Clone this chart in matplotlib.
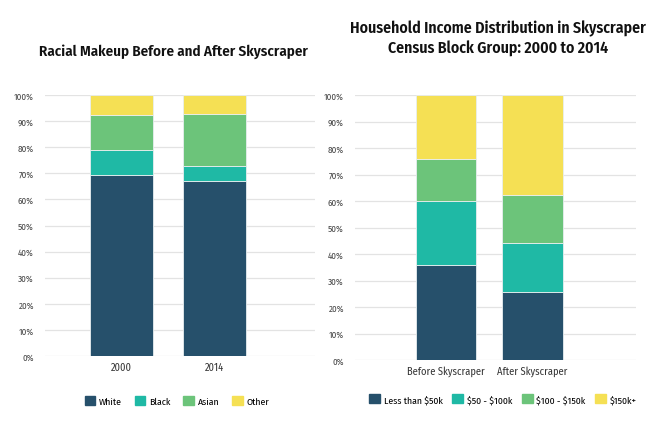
import matplotlib
matplotlib.use("Agg")
from matplotlib import pyplot as plt
from matplotlib.patches import Patch
import numpy as np

plt.rcParams['font.family'] = ['Fira Sans Condensed', 'DejaVu Sans']

# racial makeup (%)
years = ["2000", "2014"]
race_labels = ["White", "Black", "Asian", "Other"]
white = [69.3, 67.0]
black = [9.6, 5.7]
asian = [13.6, 19.9]
other = [7.5, 7.4]

# household income (%)
periods = ["Before Skyscraper", "After Skyscraper"]
income_labels = ["Less than \\$50k", "\\$50 - \\$100k", "\\$100 - \\$150k", "\\$150k+"]
inc_lt50 = [36.0, 25.7]
inc_50_100 = [24.0, 18.3]
inc_100_150 = [16.0, 18.2]
inc_150p = [24.0, 37.8]

colors = ["#26506b", "#1fb9a5", "#6cc47a", "#f5e054"]
W, H = 653, 439

fig = plt.figure(figsize=(W / 100, H / 100), dpi=100)


def stacked(ax, cats, series, width, xlim):
    x = np.arange(len(cats))
    bottom = np.zeros(len(cats))
    for vals, c in zip(series, colors):
        ax.bar(x, vals, width, bottom=bottom, color=c, edgecolor="#e8eef0",
               linewidth=0.6, zorder=3)
        bottom += np.array(vals)
    ax.set_xlim(*xlim)
    ax.set_ylim(0, 100)
    ax.set_xticks(x)
    ax.set_xticklabels(cats, fontsize=7.5, color="#333333")
    ax.set_yticks(np.arange(0, 101, 10))
    ax.set_yticklabels([f"{v}%" for v in range(0, 101, 10)], fontsize=6.5, color="#444444")
    ax.tick_params(length=0, pad=4)
    ax.tick_params(axis="y", pad=8)
    ax.grid(axis="y", color="#e3e3e3", linewidth=0.9, zorder=0)
    for s in ax.spines.values():
        s.set_visible(False)


ax1 = fig.add_axes([45 / W, 1 - 357 / H, 270 / W, 261 / H])
stacked(ax1, years, [white, black, asian, other], 0.68, (-0.83, 2.09))

ax2 = fig.add_axes([355 / W, 1 - 361 / H, 281 / W, 265 / H])
stacked(ax2, periods, [inc_lt50, inc_50_100, inc_100_150, inc_150p], 0.7, (-1.05, 2.2))

fig.text(173 / W, 1 - 52 / H, "Racial Makeup Before and After Skyscraper",
         ha="center", va="center", fontsize=10.8, fontweight="semibold", color="#111111")
fig.text(498 / W, 1 - 39 / H, "Household Income Distribution in Skyscraper\nCensus Block Group: 2000 to 2014",
         ha="center", va="center", fontsize=11.4, fontweight="semibold", color="#111111",
         linespacing=1.3)

h1 = [Patch(color=c) for c in colors]
fig.legend(h1, race_labels, loc="center", bbox_to_anchor=(177 / W, 1 - 402 / H),
           ncol=4, frameon=False, fontsize=7, handlelength=1.1, handleheight=1.1,
           columnspacing=1.3, handletextpad=0.4)
fig.legend(h1, income_labels, loc="center", bbox_to_anchor=(503 / W, 1 - 400 / H),
           ncol=4, frameon=False, fontsize=7, handlelength=1.1, handleheight=1.1,
           columnspacing=1.0, handletextpad=0.4)

fig.savefig("out.png", dpi=100)
